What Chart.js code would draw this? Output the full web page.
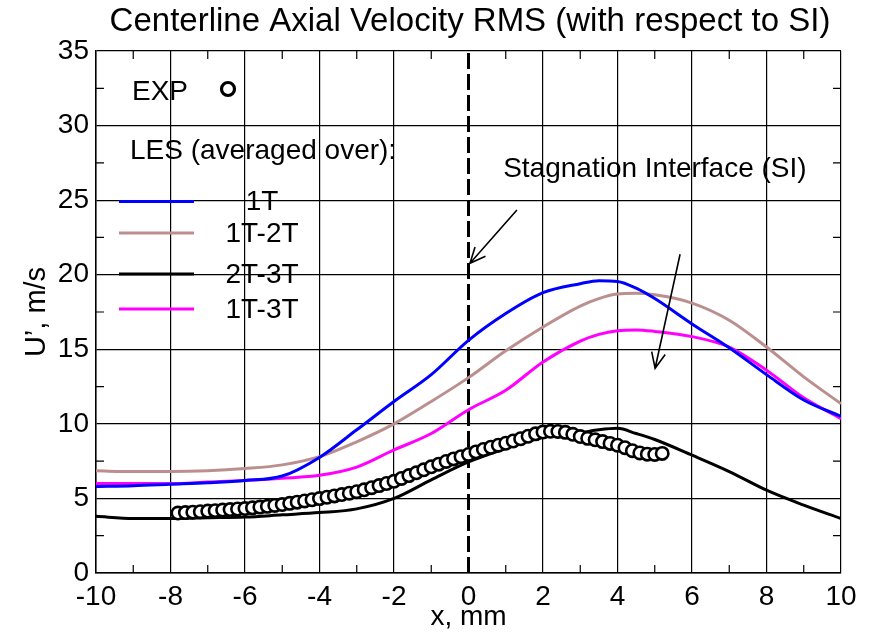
<!DOCTYPE html>
<html>
<head>
<meta charset="utf-8">
<script src="https://cdn.jsdelivr.net/npm/chart.js@4/dist/chart.umd.min.js"></script>
<style>
  html, body { margin: 0; padding: 0; background: #fff; }
</style>
</head>
<body>
<canvas id="chart" width="871" height="632"></canvas>
<script>
// --------------------
// DATA
// --------------------
const lesX   = [-10, -9, -8, -7, -6, -5, -4, -3, -2, -1, 0, 1, 2, 3, 3.5, 4, 4.5, 5, 6, 7, 8, 9, 10];
const les1T  = [5.8, 5.85, 5.95, 6.05, 6.2, 6.5, 7.75, 9.6, 11.5, 13.3, 15.6, 17.4, 18.8, 19.4, 19.6, 19.55, 19.1, 18.4, 16.7, 15.1, 13.3, 11.6, 10.5];
const les12T = [6.85, 6.8, 6.8, 6.85, 7.0, 7.25, 7.8, 8.8, 10.0, 11.5, 13.1, 14.9, 16.5, 17.9, 18.4, 18.7, 18.75, 18.65, 18.1, 16.95, 15.15, 13.15, 11.35];
const les23T = [3.8, 3.65, 3.65, 3.7, 3.75, 3.9, 4.05, 4.3, 5.0, 6.25, 7.45, 8.35, 9.1, 9.4, 9.6, 9.7, 9.35, 8.95, 7.9, 6.8, 5.55, 4.55, 3.65];
const les13T = [6.0, 6.0, 6.0, 6.1, 6.2, 6.35, 6.55, 7.1, 8.25, 9.35, 10.95, 12.25, 14.15, 15.55, 16.0, 16.25, 16.3, 16.2, 15.85, 15.15, 13.6, 11.75, 10.35];

const expX = [-7.8, -7.6, -7.4, -7.2, -7.0, -6.8, -6.6, -6.4, -6.2, -6.0,
              -5.8, -5.6, -5.4, -5.2, -5.0, -4.8, -4.6, -4.4, -4.2, -4.0,
              -3.8, -3.6, -3.4, -3.2, -3.0, -2.8, -2.6, -2.4, -2.2, -2.0,
              -1.8, -1.6, -1.4, -1.2, -1.0, -0.8, -0.6, -0.4, -0.2, 0.0,
              0.2, 0.4, 0.6, 0.8, 1.0, 1.2, 1.4, 1.6, 1.8, 2.0,
              2.2, 2.4, 2.6, 2.8, 3.0, 3.2, 3.4, 3.6, 3.8, 4.0,
              4.2, 4.4, 4.6, 4.8, 5.0, 5.2];
const expU = [4.02, 4.05, 4.08, 4.11, 4.15, 4.18, 4.22, 4.25, 4.29, 4.32,
              4.37, 4.42, 4.47, 4.53, 4.59, 4.67, 4.75, 4.83, 4.91, 4.99,
              5.08, 5.17, 5.26, 5.35, 5.45, 5.58, 5.72, 5.86, 6.0, 6.15,
              6.34, 6.53, 6.72, 6.92, 7.12, 7.3, 7.48, 7.65, 7.8, 7.95,
              8.12, 8.28, 8.43, 8.57, 8.7, 8.85, 9.0, 9.17, 9.33, 9.45,
              9.5, 9.49, 9.43, 9.3, 9.15, 9.03, 8.93, 8.81, 8.69, 8.57,
              8.4, 8.2, 8.05, 7.97, 7.95, 8.02];

const siX = [0, 0];
const siU = [0, 35];

const xTicks = [-10, -8, -6, -4, -2, 0, 2, 4, 6, 8, 10];
const yTicks = [0, 5, 10, 15, 20, 25, 30, 35];

// annotation arrows (data coords): from -> to
const arrowFrom = [[1.30, 24.34], [5.68, 21.37]];
const arrowTo   = [[0.04, 20.77], [5.01, 13.73]];

const FONT = "'Liberation Sans', Arial, Helvetica, sans-serif";

const pts = (xs, ys) => xs.map((v, i) => ({ x: v, y: ys[i] }));

// --------------------
// DECORATIONS
// --------------------
function arrow(ctx, x1, y1, x2, y2) {
  const ang = Math.atan2(y2 - y1, x2 - x1);
  const hl = 17, ha = 0.42;
  ctx.beginPath();
  ctx.moveTo(x1, y1);
  ctx.lineTo(x2, y2);
  ctx.moveTo(x2 - hl * Math.cos(ang - ha), y2 - hl * Math.sin(ang - ha));
  ctx.lineTo(x2, y2);
  ctx.lineTo(x2 - hl * Math.cos(ang + ha), y2 - hl * Math.sin(ang + ha));
  ctx.stroke();
}

const decor = {
  id: "decor",
  beforeDraw(chart) {
    const ctx = chart.ctx;
    ctx.save();
    ctx.fillStyle = "#fff";
    ctx.fillRect(0, 0, chart.width, chart.height);
    ctx.restore();
  },
  afterDraw(chart) {
    const { ctx, chartArea: a, scales: { x, y } } = chart;
    ctx.save();
    ctx.strokeStyle = "#000";
    ctx.fillStyle = "#000";

    // minor ticks, inward
    ctx.lineWidth = 1.2;
    ctx.beginPath();
    for (let v = -9; v < 10; v += 2) {
      const px = x.getPixelForValue(v);
      ctx.moveTo(px, a.bottom); ctx.lineTo(px, a.bottom - 8);
      ctx.moveTo(px, a.top); ctx.lineTo(px, a.top + 8);
    }
    for (let v = 2.5; v < 35; v += 5) {
      const py = y.getPixelForValue(v);
      ctx.moveTo(a.left, py); ctx.lineTo(a.left + 8, py);
      ctx.moveTo(a.right, py); ctx.lineTo(a.right - 8, py);
    }
    ctx.stroke();

    // titles
    ctx.textAlign = "center";
    ctx.textBaseline = "alphabetic";
    ctx.font = "33px " + FONT;
    ctx.fillText("Centerline Axial Velocity RMS (with respect to SI)", 470, 31);
    ctx.font = "28px " + FONT;
    ctx.fillText("x, mm", (a.left + a.right) / 2, 625);
    ctx.save();
    ctx.translate(45, (a.top + a.bottom) / 2);
    ctx.rotate(-Math.PI / 2);
    ctx.font = "29px " + FONT;
    ctx.fillText("U\u2019, m/s", 0, 0);
    ctx.restore();

    // annotation
    ctx.textAlign = "left";
    ctx.textBaseline = "middle";
    ctx.font = "28px " + FONT;
    ctx.fillText("Stagnation Interface (SI)", x.getPixelForValue(0.93), y.getPixelForValue(27.1));
    ctx.lineWidth = 1.6;
    arrowFrom.forEach((f, i) => {
      const t = arrowTo[i];
      arrow(ctx, x.getPixelForValue(f[0]), y.getPixelForValue(f[1]),
                 x.getPixelForValue(t[0]), y.getPixelForValue(t[1]));
    });

    // legend
    const ds = chart.data.datasets;
    ctx.fillText(ds[0].label, 132, 92);
    ctx.beginPath();
    ctx.arc(228, 89, 6.5, 0, Math.PI * 2);
    ctx.fillStyle = "#fff";
    ctx.fill();
    ctx.lineWidth = 3.2;
    ctx.stroke();
    ctx.fillStyle = "#000";
    ctx.fillText("LES (averaged over):", 130, 151);

    const rows = [201.5, 233, 274, 309];
    ctx.lineWidth = 3;
    ctx.textAlign = "center";
    for (let i = 0; i < 4; i++) {
      const d = ds[i + 1];
      ctx.strokeStyle = d.borderColor;
      ctx.beginPath();
      ctx.moveTo(119, rows[i]);
      ctx.lineTo(194, rows[i]);
      ctx.stroke();
      ctx.fillText(d.label, 262, rows[i] + 1);
    }
    ctx.restore();
  }
};

// --------------------
// CHART
// --------------------
const lineDs = (label, ys, color) => ({
  label,
  data: pts(lesX, ys),
  borderColor: color,
  borderWidth: 3,
  pointRadius: 0,
  fill: false,
  cubicInterpolationMode: "monotone"
});

new Chart(document.getElementById("chart"), {
  type: "line",
  data: {
    datasets: [
      {
        label: "EXP",
        data: pts(expX, expU),
        showLine: false,
        pointRadius: 6.2,
        pointBorderWidth: 2.6,
        pointBorderColor: "#000",
        pointBackgroundColor: "#fff",
        borderColor: "#000"
      },
      lineDs("1T", les1T, "#0000ff"),
      lineDs("1T-2T", les12T, "#bc8f8f"),
      lineDs("2T-3T", les23T, "#000000"),
      lineDs("1T-3T", les13T, "#ff00ff"),
      {
        label: "SI",
        data: pts(siX, siU),
        borderColor: "#000",
        borderWidth: 3,
        borderDash: [16, 5],
        pointRadius: 0
      }
    ]
  },
  options: {
    responsive: false,
    animation: false,
    devicePixelRatio: 1,
    layout: { padding: { top: 51, right: 30, left: 0, bottom: 0 } },
    plugins: {
      legend: { display: false },
      title: { display: false },
      tooltip: { enabled: false }
    },
    scales: {
      x: {
        type: "linear",
        min: -10,
        max: 10,
        afterFit: s => { s.height = 59; },
        afterBuildTicks: s => { s.ticks = xTicks.map(v => ({ value: v })); },
        grid: {
          color: c => (c.tick && c.tick.value === 0 ? "rgba(0,0,0,0)" : "#000"),
          lineWidth: 1.2,
          drawTicks: false
        },
        border: { color: "#000", width: 1.5 },
        ticks: { color: "#000", padding: 7, maxRotation: 0, font: { size: 28, family: FONT } }
      },
      y: {
        min: 0,
        max: 35,
        afterFit: s => { s.width = 96; },
        afterBuildTicks: s => { s.ticks = yTicks.map(v => ({ value: v })); },
        grid: { color: "#000", lineWidth: 1.2, drawTicks: false },
        border: { color: "#000", width: 1.5 },
        ticks: { color: "#000", padding: 7, font: { size: 28, family: FONT } }
      }
    }
  },
  plugins: [decor]
});
</script>
</body>
</html>
